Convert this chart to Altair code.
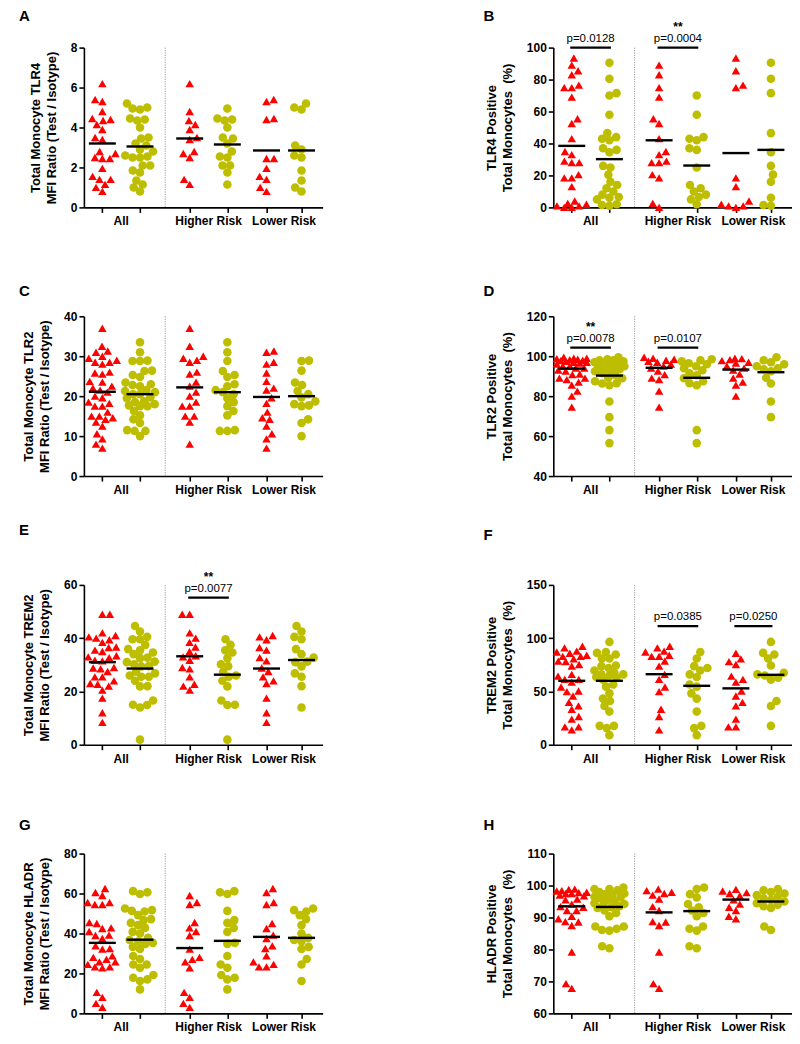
import altair as alt
import numpy as np
import pandas as pd

FONT = "Liberation Sans"
RED = "#FF0000"
OLIVE = "#BEBE00"
GROUPS = ["All", "Higher Risk", "Lower Risk"]

# ---------------- data ----------------
# h1/l1 = red triangles (Higher / Lower risk), h2/l2 = olive circles; "All" = Higher + Lower
# medians order: All red, All olive, Higher red, Higher olive, Lower red, Lower olive
A_H1 = [6.2, 4.8, 4.35, 4.15, 3.9, 3.5, 3.4, 2.8, 2.7, 2.5, 1.4, 1.15]
A_H2 = [4.95, 4.45, 4.4, 4.35, 4.0, 3.5, 3.45, 3.2, 2.8, 2.55, 2.5, 2.1, 2.1, 1.75, 1.15]
A_L1 = [5.4, 5.3, 4.45, 4.4, 2.45, 2.45, 1.95, 1.55, 1.4, 1.0, 0.8]
A_L2 = [5.2, 5.0, 4.9, 3.1, 2.9, 2.6, 2.5, 1.85, 1.35, 1.0, 0.8]
A_MED = [3.2, 3.05, 3.45, 3.15, 2.85, 2.85]

B_H1 = [89, 83, 75, 69, 55.5, 52.5, 43, 35, 33, 29, 28, 28, 20.5, 18.5, 2.5, 0]
B_H2 = [70, 58, 44, 43, 42, 37, 36, 25, 14, 12, 10, 8, 6.5, 5, 2]
B_L1 = [93.5, 85.5, 76.5, 75, 18.5, 13, 4, 2, 1, 1, 0]
B_L2 = [90.5, 80.5, 71.5, 46.5, 34.5, 26, 20.5, 16, 6, 1.5, 1]
B_MED = [38.5, 30.2, 42, 26.2, 34, 36]

C_H1 = [37, 32.5, 30, 29.5, 29, 28.5, 26, 25.5, 23.5, 22.5, 21, 20, 18.5, 17.5, 17.5, 15, 15, 13.5, 8]
C_H2 = [33.5, 31, 28.8, 26.3, 25.3, 24.8, 23, 22.5, 21.5, 21, 20.5, 19.5, 18.5, 17.5, 16.3, 15.2, 11.5, 11.3, 11.3]
C_L1 = [31.3, 31, 28.5, 28, 25.8, 23.7, 22, 21.5, 19.6, 18.2, 16, 14.6, 14.2, 12.5, 10.6, 9.3, 7]
C_L2 = [28.9, 28.8, 26.4, 23.4, 22.8, 21.3, 20.5, 19.7, 18.7, 18, 17.7, 17.5, 14.2, 13.3, 10]
C_MED = [21.1, 20.5, 22.2, 21.0, 19.8, 20.0]

D_H1 = [99.5, 99, 98.5, 98, 97.5, 97, 96, 95, 94, 92.5, 90.8, 89, 88.3, 82.5, 74.5]
D_H2 = [98.5, 98, 97.5, 96.5, 96, 95, 94, 93, 91.5, 90.5, 89, 87.5, 86.5, 85.5, 63, 56.5]
D_L1 = [99, 98.8, 98.3, 97.8, 97, 96.5, 95, 94, 93, 91, 89, 87, 85.5, 80]
D_L2 = [99.5, 98, 97, 96, 95, 94, 93.5, 92.5, 89.2, 86.3, 77.3, 69.5]
D_MED = [93.8, 90.3, 94.2, 89.2, 93.3, 92.0]

E_H1 = [49, 49, 42, 40, 38.4, 36.7, 35, 33.4, 33, 31.7, 29, 28.5, 25.5, 22.7, 22, 20.5]
E_H2 = [39.6, 37.5, 35.5, 34.6, 32.5, 30.2, 29.5, 27.4, 26, 25.5, 24, 21.9, 16.6, 15, 14.9, 1.9]
E_L1 = [41, 40.5, 39.4, 36.5, 35.5, 32.7, 31.5, 28.8, 27.5, 25.5, 24, 23, 17.5, 12, 8.4]
E_L2 = [44.6, 42.5, 40.5, 39.6, 35.9, 34, 32.7, 31.2, 31, 29.4, 26.8, 25.5, 22, 14]
E_MED = [31.0, 28.6, 33.2, 26.3, 28.6, 31.8]

F_H1 = [92.4, 90.9, 87.8, 87, 84, 83, 83, 78.4, 73.8, 66, 61.3, 54.2, 49.8, 33.3, 26.5, 14]
F_H2 = [87.1, 80.9, 73.8, 72, 69.7, 66, 63.5, 56.6, 54.5, 48.2, 43.3, 31.1, 17.7, 15.6, 9]
F_L1 = [85.9, 80.6, 78, 75.3, 64.4, 61.3, 58.8, 50.4, 45.7, 39.8, 36.4, 24, 16.8, 16.8]
F_L2 = [96.5, 86.2, 84.7, 80.9, 74.4, 67.5, 66, 65, 62.9, 61, 41.1, 36.4, 17.7]
F_MED = [60.0, 60.0, 66.2, 55.3, 52.9, 65.6]

G_H1 = [59, 55.5, 54.5, 45.5, 42.8, 41, 39, 32.2, 28, 27, 25.8, 22.8, 10.5, 8, 5, 3]
G_H2 = [61.2, 60.6, 59.8, 51.3, 46.7, 45.3, 42.8, 40.8, 35.3, 34.8, 28.7, 24.5, 22.8, 19.2, 17.8, 17, 12]
G_L1 = [62.5, 60.5, 55.5, 54.5, 45, 42.5, 39.2, 37.5, 33.8, 32.5, 28.8, 25.8, 24.5, 23.3, 23.3]
G_L2 = [52.5, 51.7, 51, 49.2, 47.2, 44.2, 40, 37.8, 36.7, 36, 33.3, 32.2, 27.2, 24.5, 16.2]
G_MED = [35.3, 36.9, 32.7, 36.3, 38.3, 37.8]

H_H1 = [98.9, 98.4, 97.9, 97.5, 97, 95.8, 93.4, 92.2, 88.7, 88.6, 87.5, 79.2, 69.3, 67.8]
H_H2 = [99.4, 98.9, 97.3, 96.3, 94.2, 93.2, 92.2, 91.4, 90.4, 87.2, 86.5, 85.9, 81, 80.4]
H_L1 = [98.8, 98.3, 97.8, 97.5, 96.8, 95.5, 94.2, 93.2, 92.2, 90.4, 89.6]
H_L2 = [98.9, 98.5, 98, 97.5, 97, 96.5, 96, 95.5, 95, 94.5, 94, 93.5, 93, 87.2, 86.1]
H_MED = [93.5, 93.3, 91.6, 92.0, 95.6, 95.0]

MFI = "MFI Ratio (Test / Isotype)"
POSITIVE = "Total Monocytes \u00a0(%)"

PANELS = [
    dict(letter="A", title=["Total Monocyte TLR4", MFI], dom=(0, 8), ticks=[0, 2, 4, 6, 8],
         h1=A_H1, h2=A_H2, l1=A_L1, l2=A_L2, med=A_MED, ann=[], ly=-39),
    dict(letter="B", title=["TLR4 Positive", POSITIVE], dom=(0, 100), ticks=[0, 20, 40, 60, 80, 100],
         h1=B_H1, h2=B_H2, l1=B_L1, l2=B_L2, med=B_MED,
         ann=[("All", 100, "p=0.0128", ""), ("Higher Risk", 100, "p=0.0004", "**")], ly=-39),
    dict(letter="C", title=["Total Monocyte TLR2", MFI], dom=(0, 40), ticks=[0, 10, 20, 30, 40],
         h1=C_H1, h2=C_H2, l1=C_L1, l2=C_L2, med=C_MED, ann=[], ly=-32),
    dict(letter="D", title=["TLR2 Positive", POSITIVE], dom=(40, 120), ticks=[40, 60, 80, 100, 120],
         h1=D_H1, h2=D_H2, l1=D_L1, l2=D_L2, med=D_MED,
         ann=[("All", 104.3, "p=0.0078", "**"), ("Higher Risk", 104.3, "p=0.0107", "")], ly=-32),
    dict(letter="E", title=["Total Monocyte TREM2", MFI], dom=(0, 60), ticks=[0, 20, 40, 60],
         h1=E_H1, h2=E_H2, l1=E_L1, l2=E_L2, med=E_MED,
         ann=[("Higher Risk", 55.2, "p=0.0077", "**")], ly=-62),
    dict(letter="F", title=["TREM2 Positive", POSITIVE], dom=(0, 150), ticks=[0, 50, 100, 150],
         h1=F_H1, h2=F_H2, l1=F_L1, l2=F_L2, med=F_MED,
         ann=[("Higher Risk", 111.4, "p=0.0385", ""), ("Lower Risk", 111.4, "p=0.0250", "")], ly=-57),
    dict(letter="G", title=["Total Monocyte HLADR", MFI], dom=(0, 80), ticks=[0, 20, 40, 60, 80],
         h1=G_H1, h2=G_H2, l1=G_L1, l2=G_L2, med=G_MED, ann=[], ly=-36),
    dict(letter="H", title=["HLADR Positive", POSITIVE], dom=(60, 110), ticks=[60, 70, 80, 90, 100, 110],
         h1=H_H1, h2=H_H2, l1=H_L1, l2=H_L2, med=H_MED, ann=[], ly=-36),
]

# ---------------- layout (category slots on a linear x scale) ----------------
W, H = 239, 160
XDOM = [0.51, 6.85]
SLOT = {("All", 1): 1.0, ("All", 2): 2.0,
        ("Higher Risk", 1): 3.32, ("Higher Risk", 2): 4.32,
        ("Lower Risk", 1): 5.36, ("Lower Risk", 2): 6.29}
SEPARATOR = 2.67


def swarm(vals, ppu, d=7.5, maxw=15.0):
    """Deterministic beeswarm offsets (pixels) for values on one column."""
    vals = np.asarray(vals, float)
    order = np.argsort(vals, kind="stable")
    xs = np.zeros(len(vals))
    placed = []
    flip = 1
    for i in order:
        y = vals[i] * ppu
        near = [(px, py) for px, py in placed if abs(py - y) < d]
        cands = [0.0]
        for px, py in near:
            w = np.sqrt(d * d - (py - y) ** 2)
            cands += [px - w, px + w]

        def ok(c):
            return all(abs(c - px) >= np.sqrt(d * d - (py - y) ** 2) - 1e-6 for px, py in near)

        good = [c for c in cands if ok(c) and abs(c) <= maxw]
        if good:
            m = min(abs(c) for c in good)
            opts = [c for c in good if abs(abs(c) - m) < 1e-6]
            c = max(opts) if flip > 0 else min(opts)
            flip = -flip
        else:
            grid = np.linspace(-maxw, maxw, 31)
            c = max(grid, key=lambda g: min(np.hypot(g - px, py - y) for px, py in near))
        xs[i] = c
        placed.append((c, y))
    return xs


def axis_common():
    return dict(grid=False, domainColor="black", domainWidth=1.6, tickColor="black",
                tickWidth=1.6, tickSize=5, labelFont=FONT, labelFontSize=12,
                labelFontWeight="bold", labelColor="black", labelPadding=2)


def panel(p):
    ymin, ymax = p["dom"]
    xppu = W / (XDOM[1] - XDOM[0])
    yppu = H / (ymax - ymin)
    series = {
        ("All", 1): p["h1"] + p["l1"], ("All", 2): p["h2"] + p["l2"],
        ("Higher Risk", 1): p["h1"], ("Higher Risk", 2): p["h2"],
        ("Lower Risk", 1): p["l1"], ("Lower Risk", 2): p["l2"],
    }
    rows = []
    for key, vals in series.items():
        offs = swarm(vals, yppu)
        for v, o in zip(vals, offs):
            rows.append({"group": key[0], "s": key[1], "y": v, "x": SLOT[key] + o / xppu})
    pts = pd.DataFrame(rows)

    xs = alt.Scale(domain=XDOM, nice=False, zero=False)
    ys = alt.Scale(domain=[ymin, ymax], nice=False, zero=False)
    xax = alt.Axis(values=list(SLOT.values()), labels=False, title=None, **axis_common())
    yax = alt.Axis(values=p["ticks"], title=p["title"], titleFont=FONT, titleFontSize=13,
                   titleFontWeight="bold", titleColor="black", titlePadding=12,
                   titleLineHeight=16, **axis_common())
    X = alt.X("x:Q", scale=xs, axis=xax)
    Y = alt.Y("y:Q", scale=ys, axis=yax)

    sep = alt.Chart(pd.DataFrame({"x": [SEPARATOR]})).mark_rule(
        color="#9a9a9a", strokeWidth=1, strokeDash=[1.2, 1.2]
    ).encode(x=X, y=alt.value(0), y2=alt.value(H))

    tri = alt.Chart(pts[pts.s == 1]).mark_point(
        shape="triangle-up", filled=True, color=RED, size=72, opacity=1
    ).encode(x=X, y=Y)
    cir = alt.Chart(pts[pts.s == 2]).mark_point(
        shape="circle", filled=True, color=OLIVE, size=74, opacity=1
    ).encode(x=X, y=Y)

    med_df = pd.DataFrame({"x": list(SLOT.values()), "y": p["med"]})
    med = alt.Chart(med_df).mark_tick(
        orient="horizontal", size=27, thickness=2.4, color="black", opacity=1
    ).encode(x=X, y=Y)

    lab_df = pd.DataFrame({"x": [(SLOT[(g, 1)] + SLOT[(g, 2)]) / 2 for g in GROUPS], "t": GROUPS})
    labels = alt.Chart(lab_df).mark_text(
        baseline="top", font=FONT, fontSize=12, fontWeight="bold", color="black"
    ).encode(x=X, y=alt.value(H + 9), text="t:N")

    letter = alt.Chart(pd.DataFrame({"t": [p["letter"]]})).mark_text(
        align="left", baseline="top", font=FONT, fontSize=15, fontWeight="bold", color="black"
    ).encode(x=alt.value(-65 if p["letter"] in "ACEG" else -70), y=alt.value(p["ly"]), text="t:N")

    layers = [sep, tri, cir, med, labels, letter]

    if p["ann"]:
        bars = pd.DataFrame([{"x": SLOT[(g, 1)] - 0.04, "x2": SLOT[(g, 2)] + 0.04, "y": v}
                             for g, v, _, _ in p["ann"]])
        txt = pd.DataFrame([{"x": (SLOT[(g, 1)] + SLOT[(g, 2)]) / 2, "y": v, "p": t, "st": s}
                            for g, v, t, s in p["ann"]])
        layers.append(alt.Chart(bars).mark_rule(color="black", strokeWidth=2.3).encode(
            x=X, x2="x2:Q", y=Y))
        layers.append(alt.Chart(txt).mark_text(
            baseline="alphabetic", dy=-6, font=FONT, fontSize=11.5, color="black"
        ).encode(x=X, y=Y, text="p:N"))
        layers.append(alt.Chart(txt).mark_text(
            baseline="alphabetic", dy=-17, font=FONT, fontSize=12, fontWeight="bold", color="black"
        ).encode(x=X, y=Y, text="st:N"))

    return alt.layer(*layers).properties(width=W, height=H)


chart = alt.concat(
    *[panel(p) for p in PANELS], columns=2,
    spacing={"row": 109, "column": 231}, bounds="flush"
).properties(
    padding={"left": 11, "top": 0, "right": 0, "bottom": 5}
).configure_view(stroke=None)

chart.save("out.html", embed_options={"renderer": "svg", "actions": False})
